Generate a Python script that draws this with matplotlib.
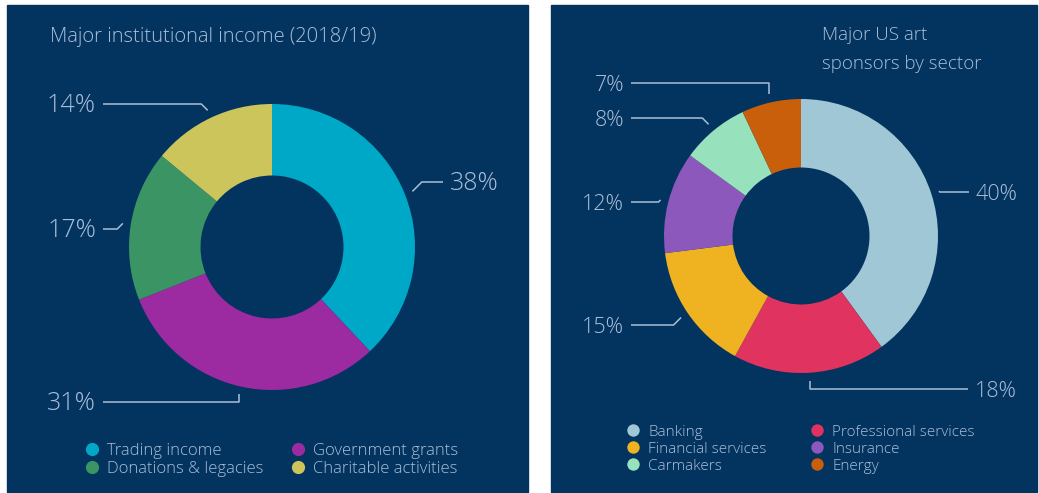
import numpy as np
import matplotlib.pyplot as plt
from matplotlib.patches import Rectangle

# canvas size in pixels, everything below is laid out in pixel units
W, H = 1039, 493
NAVY = '#03335f'
INK = '#a9bfd8'
FONT = 'Open Sans'

# Major institutional income (2018/19)
income_labels = ['Trading income', 'Government grants', 'Donations & legacies', 'Charitable activities']
income_share = [38, 31, 17, 14]
income_colors = ['#00a8c8', '#9c2aa0', '#3a9463', '#cbc55c']

# Major US art sponsors by sector
sponsor_labels = ['Banking', 'Professional services', 'Financial services',
                  'Insurance', 'Carmakers', 'Energy']
sponsor_share = [40, 18, 15, 12, 8, 7]
sponsor_colors = ['#9fc7d6', '#e0335f', '#efb321', '#8d58bb', '#97e1bd', '#c95f0a']


def Y(py):
    # convert image row to data y (y axis points up)
    return H - py


def donut(ax, cx, cy, r, values, colors, callouts, fs):
    wedges, _ = ax.pie(values, colors=colors, startangle=90, counterclock=False,
                       center=(cx, Y(cy)), radius=r,
                       wedgeprops=dict(width=r * 0.5, linewidth=0))
    # callouts: (label row, line end x, elbow style) for each wedge
    for w, v, (ly, lx, style) in zip(wedges, values, callouts):
        a = np.deg2rad((w.theta1 + w.theta2) / 2)
        px = cx + (r + 8) * np.cos(a)
        py = cy - (r + 8) * np.sin(a)
        side = 1 if lx > px else -1
        ex = px if style == 'v' else px + side * abs(py - ly)
        ax.plot([px, ex, lx], [Y(py), Y(ly), Y(ly)], color=INK, lw=1.1,
                solid_capstyle='butt')
        ax.text(lx + side * 7, Y(ly + 8), f'{v}%', color=INK, fontsize=fs,
                family=FONT, weight='light',
                ha='left' if side > 0 else 'right', va='baseline')


def legend(ax, labels, colors, x0, col_dx, text_dx, base0, row_dy, fs, dot):
    for i, (lab, c) in enumerate(zip(labels, colors)):
        col, row = i % 2, i // 2
        x = x0 + col * col_dx
        b = base0 + row * row_dy
        ax.scatter([x], [Y(b - 6)], s=dot, color=c, linewidths=0, zorder=3)
        ax.text(x + text_dx, Y(b), lab, color=INK, fontsize=fs, family=FONT,
                weight='light', ha='left', va='baseline')


fig = plt.figure(figsize=(W / 100, H / 100), dpi=100, facecolor='white')
ax = fig.add_axes([0, 0, 1, 1])

# panel backgrounds
ax.add_patch(Rectangle((7, Y(492)), 521, 487, color=NAVY, zorder=0))
ax.add_patch(Rectangle((551, Y(492)), 486, 487, color=NAVY, zorder=0))

# left panel
ax.text(50, Y(42), 'Major institutional income (2018/19)', color=INK,
        fontsize=14.5, family=FONT, weight='light', ha='left', va='baseline')
donut(ax, 272, 247, 143, income_share, income_colors,
      [(182, 443, 'd'), (402, 103, 'v'), (229, 103, 'd'), (104, 103, 'd')], 18)
legend(ax, income_labels, income_colors, 92, 206, 15, 455, 18, 12, 90)

# right panel (two-line title, baseline of the last line given)
ax.text(822, Y(69), 'Major US art\nsponsors by sector', color=INK,
        fontsize=13.5, family=FONT, weight='light', ha='left', va='baseline',
        linespacing=1.75)
donut(ax, 801, 236, 137, sponsor_share, sponsor_colors,
      [(192, 969, 'd'), (389, 968, 'v'), (325, 631, 'd'),
       (202, 631, 'd'), (118, 631, 'd'), (83, 631, 'v')], 15.5)
legend(ax, sponsor_labels, sponsor_colors, 633, 184, 15, 436, 17, 11, 80)

ax.set_xlim(0, W)
ax.set_ylim(0, H)
ax.set_aspect('auto')
ax.axis('off')

fig.savefig('out.png', dpi=100, facecolor='white')
